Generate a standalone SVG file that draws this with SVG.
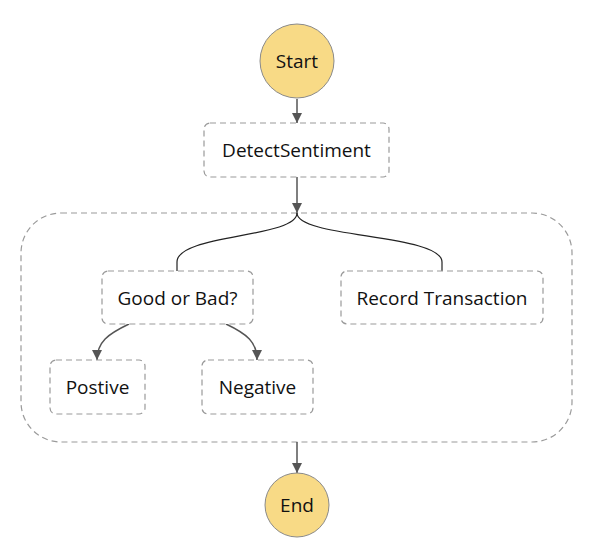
<svg xmlns="http://www.w3.org/2000/svg" width="592" height="547" viewBox="0 0 592 547">
<style>
.term{fill:#f8da86;stroke:#8a8a8a;stroke-width:1}
.state{fill:#ffffff;stroke:#9a9a9a;stroke-width:1.2;stroke-dasharray:6 4}
.lbl{font-family:"Open Sans","Noto Sans",sans-serif;font-size:19px;fill:#111;text-anchor:middle;dominant-baseline:central}
.edge{fill:none;stroke:#555;stroke-width:1.5}
.branch{fill:none;stroke:#222;stroke-width:1.2}
</style>
<defs>
<marker id="arr" markerUnits="userSpaceOnUse" markerWidth="10" markerHeight="10" refX="10" refY="5" orient="auto">
<path d="M0,0 L10,5 L0,10 z" fill="#555"/>
</marker>
</defs>
<rect width="592" height="547" fill="#ffffff"/>
<g id="parallel">
<rect class="state" x="21" y="213" width="551" height="229" rx="40" ry="40"/>
</g>
<g id="connectors">
<line class="edge" x1="297" y1="99" x2="297" y2="123" marker-end="url(#arr)"/>
<line class="edge" x1="297" y1="177" x2="297" y2="213" marker-end="url(#arr)"/>
<path class="branch" d="M297,213 C297,238 177,234 177,262 V271"/>
<path class="branch" d="M297,213 C297,238 442,234 442,262 V271"/>
<path class="edge" d="M129,324 C108,334 97,342 97,360" marker-end="url(#arr)"/>
<path class="edge" d="M226,324 C247,334 257,342 257,360" marker-end="url(#arr)"/>
<line class="edge" x1="297" y1="442" x2="297" y2="473" marker-end="url(#arr)"/>
</g>
<g id="start">
<circle class="term" cx="297" cy="61" r="37"/>
<text class="lbl" x="297" y="61">Start</text>
</g>
<g id="detect">
<rect class="state" x="204" y="123" width="185" height="54" rx="6"/>
<text class="lbl" x="296.5" y="150">DetectSentiment</text>
</g>
<g id="goodbad">
<rect class="state" x="102" y="271" width="151" height="53" rx="6"/>
<text class="lbl" x="177.5" y="297.5">Good or Bad?</text>
</g>
<g id="record">
<rect class="state" x="341" y="271" width="202" height="53" rx="6"/>
<text class="lbl" x="442" y="297.5">Record Transaction</text>
</g>
<g id="positive">
<rect class="state" x="50" y="360" width="95" height="54" rx="6"/>
<text class="lbl" x="97.5" y="387">Postive</text>
</g>
<g id="negative">
<rect class="state" x="202" y="360" width="111" height="54" rx="6"/>
<text class="lbl" x="257.5" y="387">Negative</text>
</g>
<g id="end">
<circle class="term" cx="297" cy="505" r="32"/>
<text class="lbl" x="297" y="505">End</text>
</g>
</svg>
